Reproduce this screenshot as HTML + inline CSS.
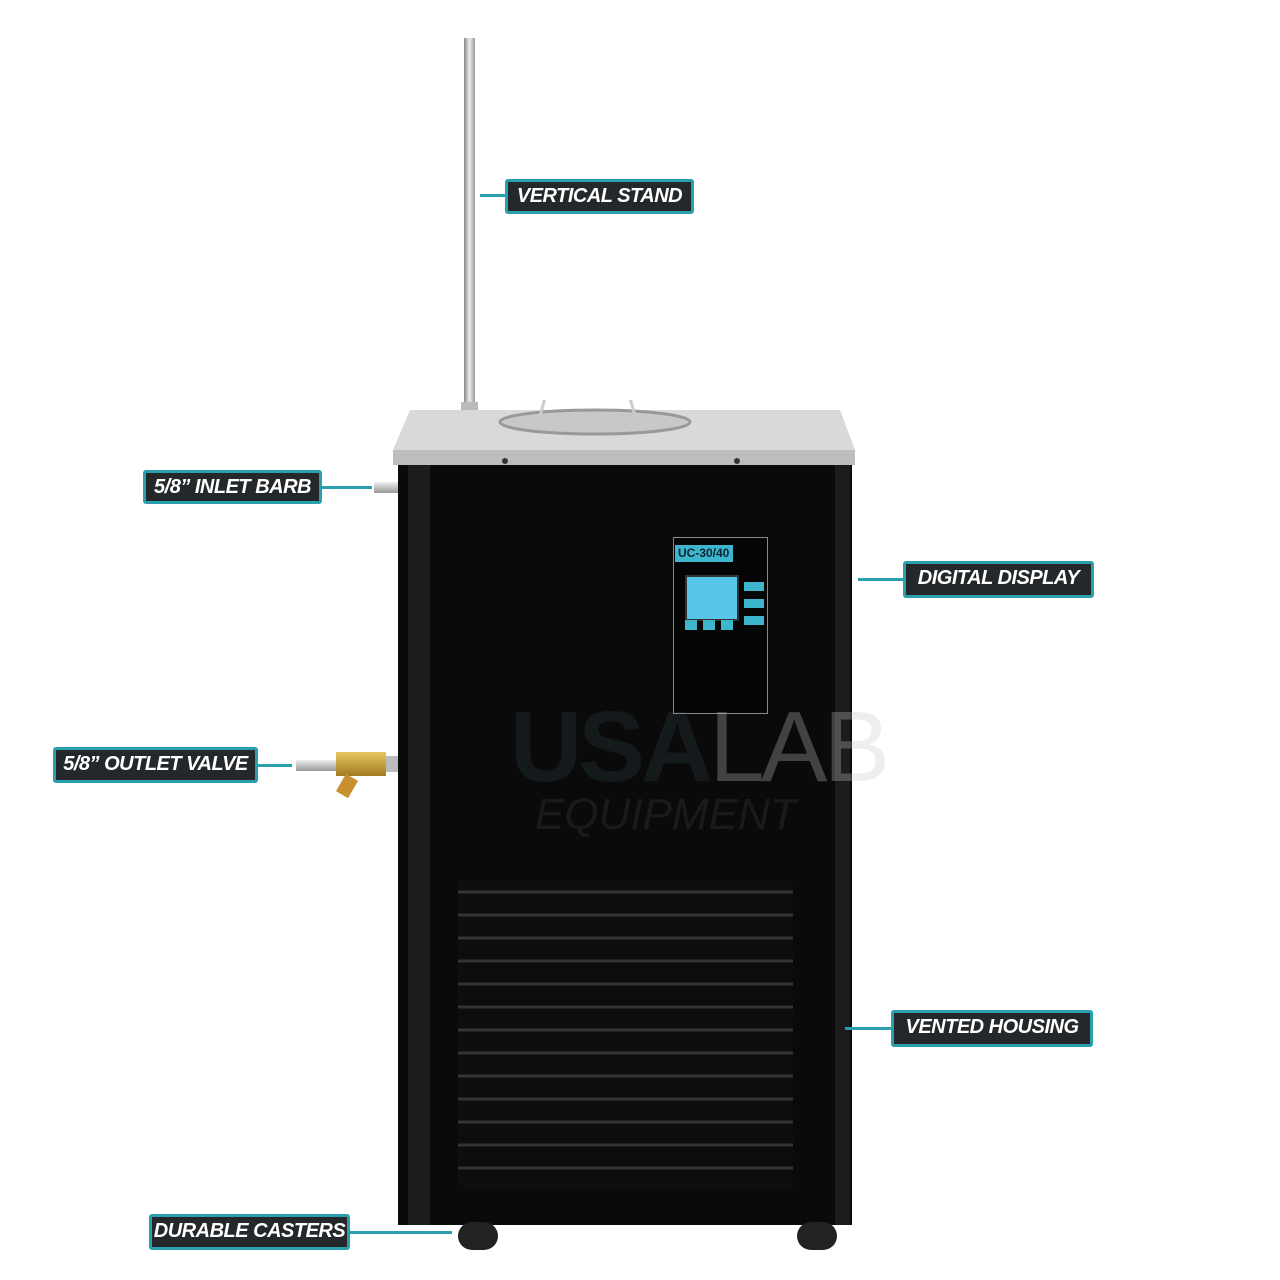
<!DOCTYPE html>
<html><head><style>
body{margin:0;width:1280px;height:1280px;background:#fff;position:relative;overflow:hidden;font-family:"Liberation Sans",sans-serif}
.a{position:absolute}
.lb{position:absolute;background:#24282a;border:3px solid #2a9fae;border-radius:3px;color:#fff;font-weight:bold;font-style:italic;font-size:20px;line-height:29px;text-align:center;box-sizing:border-box;letter-spacing:-0.5px}
.ln{position:absolute;height:3px;background:#2a9fae}
</style></head><body>
<div class="a" style="left:464px;top:38px;width:11px;height:380px;background:linear-gradient(90deg,#888,#eee,#999)"></div>
<div class="a" style="left:461px;top:402px;width:17px;height:16px;background:#bbb"></div>
<svg class="a" style="left:385px;top:400px" width="480" height="75">
<polygon points="25,10 455,10 470,50 8,50" fill="#d9d9d9"/>
<rect x="8" y="50" width="462" height="15" fill="#bdbdbd"/>
<ellipse cx="210" cy="22" rx="95" ry="12" fill="#c8c8c8" stroke="#999" stroke-width="3"/>
<path d="M155 16 L160 -2 L245 -2 L250 16" fill="none" stroke="#ccc" stroke-width="3"/>
<circle cx="120" cy="61" r="3" fill="#333"/><circle cx="352" cy="61" r="3" fill="#333"/>
</svg>
<div class="a" style="left:398px;top:465px;width:454px;height:760px;background:#0a0a0a"></div>
<div class="a" style="left:408px;top:465px;width:22px;height:760px;background:#1c1c1c"></div>
<div class="a" style="left:835px;top:465px;width:15px;height:760px;background:#1c1c1c"></div>
<div class="a" style="left:673px;top:537px;width:93px;height:175px;border:1px solid #888;background:#050505"></div>
<div class="a" style="left:675px;top:545px;width:55px;height:17px;background:#3bb6cd;color:#123;font-size:12px;font-weight:bold;line-height:17px;padding-left:3px">UC-30/40</div>
<div class="a" style="left:685px;top:575px;width:50px;height:42px;background:#58c6e8;border:2px solid #333"></div>
<div class="a" style="left:685px;top:620px;width:12px;height:10px;background:#3bb6cd"></div>
<div class="a" style="left:703px;top:620px;width:12px;height:10px;background:#3bb6cd"></div>
<div class="a" style="left:721px;top:620px;width:12px;height:10px;background:#3bb6cd"></div>
<div class="a" style="left:744px;top:582px;width:20px;height:9px;background:#3bb6cd"></div>
<div class="a" style="left:744px;top:599px;width:20px;height:9px;background:#3bb6cd"></div>
<div class="a" style="left:744px;top:616px;width:20px;height:9px;background:#3bb6cd"></div>
<div class="a" style="left:510px;top:690px;font-size:100px;font-weight:bold;color:rgba(80,120,130,0.15);letter-spacing:-4px">USA<span style="font-weight:normal;color:rgba(200,200,200,0.3)">LAB</span></div>
<div class="a" style="left:535px;top:790px;font-size:44px;font-style:italic;color:rgba(120,120,120,0.15)">EQUIPMENT</div>
<svg class="a" style="left:458px;top:880px" width="335" height="310">
<rect width="335" height="310" fill="#0d0d0d"/>
<g stroke="#333" stroke-width="3">
<line x1="0" y1="12" x2="335" y2="12"/><line x1="0" y1="35" x2="335" y2="35"/><line x1="0" y1="58" x2="335" y2="58"/><line x1="0" y1="81" x2="335" y2="81"/><line x1="0" y1="104" x2="335" y2="104"/><line x1="0" y1="127" x2="335" y2="127"/><line x1="0" y1="150" x2="335" y2="150"/><line x1="0" y1="173" x2="335" y2="173"/><line x1="0" y1="196" x2="335" y2="196"/><line x1="0" y1="219" x2="335" y2="219"/><line x1="0" y1="242" x2="335" y2="242"/><line x1="0" y1="265" x2="335" y2="265"/><line x1="0" y1="288" x2="335" y2="288"/>
</g></svg>
<div class="a" style="left:458px;top:1222px;width:40px;height:28px;border-radius:14px;background:#222"></div>
<div class="a" style="left:797px;top:1222px;width:40px;height:28px;border-radius:14px;background:#222"></div>
<div class="a" style="left:374px;top:482px;width:24px;height:11px;background:linear-gradient(#eee,#999)"></div>
<div class="a" style="left:296px;top:760px;width:42px;height:11px;background:linear-gradient(#eee,#999)"></div>
<div class="a" style="left:336px;top:752px;width:50px;height:24px;background:linear-gradient(#e8c860,#a07a20)"></div>
<div class="a" style="left:386px;top:756px;width:12px;height:16px;background:#bbb"></div>
<div class="a" style="left:340px;top:776px;width:14px;height:20px;background:#c89030;transform:rotate(30deg)"></div>
<div class="ln" style="left:480px;top:194px;width:26px"></div>
<div class="lb" style="left:505px;top:179px;width:189px;height:35px">VERTICAL STAND</div>
<div class="ln" style="left:320px;top:486px;width:52px"></div>
<div class="lb" style="left:143px;top:470px;width:179px;height:34px">5/8” INLET BARB</div>
<div class="ln" style="left:858px;top:578px;width:46px"></div>
<div class="lb" style="left:903px;top:561px;width:191px;height:37px">DIGITAL DISPLAY</div>
<div class="ln" style="left:256px;top:764px;width:36px"></div>
<div class="lb" style="left:53px;top:747px;width:205px;height:36px">5/8” OUTLET VALVE</div>
<div class="ln" style="left:845px;top:1027px;width:47px"></div>
<div class="lb" style="left:891px;top:1010px;width:202px;height:37px">VENTED HOUSING</div>
<div class="ln" style="left:348px;top:1231px;width:104px"></div>
<div class="lb" style="left:149px;top:1214px;width:201px;height:36px">DURABLE CASTERS</div>
</body></html>
